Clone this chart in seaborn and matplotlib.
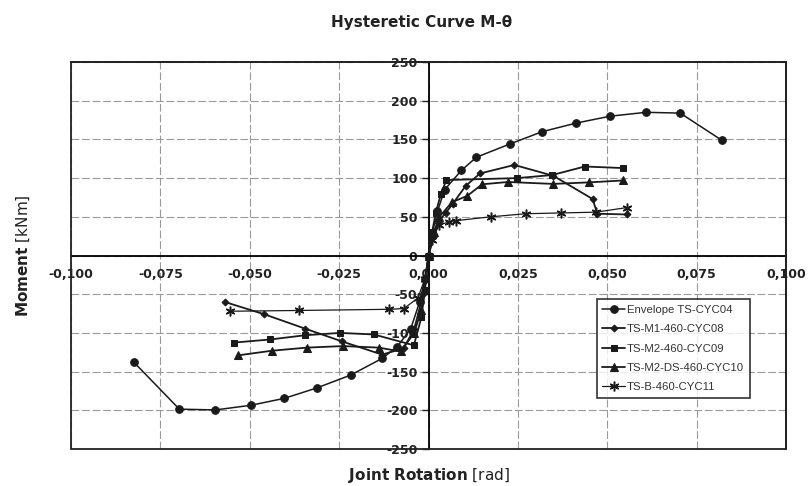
import matplotlib
matplotlib.use("Agg")
import matplotlib.pyplot as plt
from matplotlib.patches import Rectangle
import seaborn as sns
import pandas as pd

# Joint rotation [rad] and moment [kNm] for each test
env_rot = [-0.0825, -0.0697, -0.0596, -0.0497, -0.0403, -0.0312, -0.0218, -0.0130, -0.0088,
           -0.0050, -0.0025, -0.0010, 0.0, 0.0010, 0.0025, 0.0045, 0.0092, 0.0134, 0.0227,
           0.0318, 0.0412, 0.0508, 0.0608, 0.0704, 0.0820]
env_mom = [-137.5, -198.5, -199.5, -193.5, -184.5, -171.0, -154.5, -133.0, -118.0,
           -95.0, -60.0, -30.0, 0.0, 28.0, 57.0, 85.0, 110.0, 127.0, 144.0,
           160.0, 171.0, 180.0, 185.0, 184.0, 149.0]

m1_rot = [-0.0570, -0.0459, -0.0345, -0.0242, -0.0130, -0.0070, -0.0040, -0.0015, 0.0,
          0.0015, 0.0030, 0.0048, 0.0068, 0.0104, 0.0144, 0.0240, 0.0349, 0.0459, 0.0472, 0.0556]
m1_mom = [-60.0, -76.0, -94.5, -111.0, -128.0, -120.0, -95.0, -50.0, 0.0,
          25.0, 45.0, 55.0, 67.0, 90.0, 106.0, 117.0, 103.0, 73.0, 54.0, 53.0]

m2_rot = [-0.0545, -0.0443, -0.0345, -0.0248, -0.0153, -0.0041, -0.0020, -0.0010, 0.0,
          0.0010, 0.0020, 0.0035, 0.0050, 0.0248, 0.0346, 0.0437, 0.0543]
m2_mom = [-112.5, -108.5, -103.0, -100.0, -102.0, -116.0, -80.0, -45.0, 0.0,
          30.0, 55.0, 80.0, 97.5, 100.0, 104.0, 115.0, 113.0]

ds_rot = [-0.0533, -0.0438, -0.0340, -0.0239, -0.0139, -0.0078, -0.0040, -0.0020, 0.0,
          0.0015, 0.0030, 0.0066, 0.0108, 0.0150, 0.0222, 0.0349, 0.0449, 0.0545]
ds_mom = [-129.0, -123.0, -119.0, -117.0, -119.0, -124.0, -100.0, -70.0, 0.0,
          30.0, 50.0, 69.0, 77.0, 92.0, 95.0, 92.5, 94.5, 97.0]

b_rot = [-0.0555, -0.0363, -0.0111, -0.0069, -0.0030, -0.0010, 0.0,
         0.0010, 0.0030, 0.0057, 0.0076, 0.0174, 0.0272, 0.0370, 0.0468, 0.0556]
b_mom = [-72.0, -71.0, -69.5, -68.5, -55.0, -30.0, 0.0,
         20.0, 40.0, 43.0, 45.0, 50.0, 54.0, 55.0, 56.0, 62.0]

series_names = ["Envelope TS-CYC04", "TS-M1-460-CYC08", "TS-M2-460-CYC09",
                "TS-M2-DS-460-CYC10", "TS-B-460-CYC11"]

x_ticks = [-0.100, -0.075, -0.050, -0.025, 0.0, 0.025, 0.050, 0.075, 0.100]
x_ticklabels = ["-0,100", "-0,075", "-0,050", "-0,025", "0,000", "0,025", "0,050", "0,075", "0,100"]
y_ticks = [250, 200, 150, 100, 50, 0, -50, -100, -150, -200, -250]
y_ticklabels = ["250", "200", "150", "100", "50", "0", "-50", "-100", "-150", "-200", "-250"]

sns.set_style("white")
plt.rcParams["font.family"] = ["DejaVu Sans"]
plt.rcParams["mathtext.fontset"] = "dejavusans"

fig = plt.figure(figsize=(8.1, 4.86), dpi=100)
ax = fig.add_axes([0.0877, 0.0761, 0.8827, 0.7963])

data = [(env_rot, env_mom), (m1_rot, m1_mom), (m2_rot, m2_mom), (ds_rot, ds_mom), (b_rot, b_mom)]
styles = [
    dict(marker="o", markersize=5.5, linewidth=1.1),
    dict(marker="D", markersize=3.5, linewidth=1.3),
    dict(marker="s", markersize=4.5, linewidth=1.3),
    dict(marker="^", markersize=5.5, linewidth=1.3),
    dict(marker=(6, 2, 0), markersize=7, markeredgewidth=1.1, linewidth=0.9),
]

for (xs, ys), name, st in zip(data, series_names, styles):
    df = pd.DataFrame({"rot": xs, "mom": ys})
    sns.lineplot(data=df, x="rot", y="mom", sort=False, estimator=None, ax=ax,
                 color="#1a1a1a", markeredgecolor="#1a1a1a", markerfacecolor="#1a1a1a",
                 label=name, zorder=3, **st)

ax.set_xlim(-0.100, 0.100)
ax.set_ylim(-250, 250)

# Axes crossing at the origin, outer box drawn separately
ax.spines["left"].set_position(("data", 0.0))
ax.spines["bottom"].set_position(("data", 0.0))
for side in ["left", "bottom"]:
    ax.spines[side].set_linewidth(1.3)
    ax.spines[side].set_color("black")
    ax.spines[side].set_zorder(2.5)
for side in ["top", "right"]:
    ax.spines[side].set_linewidth(1.3)
    ax.spines[side].set_color("#222222")
ax.add_patch(Rectangle((0, 0), 1, 1, transform=ax.transAxes, fill=False,
                       edgecolor="#222222", linewidth=1.3, clip_on=False, zorder=4))

ax.set_xticks(x_ticks)
ax.set_xticklabels(x_ticklabels, fontsize=9, fontweight="bold", color="#222222")
ax.set_yticks(y_ticks)
ax.set_yticklabels(y_ticklabels, fontsize=9, fontweight="bold", color="#222222")
ax.tick_params(axis="y", direction="out", length=5, width=1, pad=3, left=True)
ax.tick_params(axis="x", direction="out", length=0, pad=9, bottom=True)

ax.grid(True, linestyle=(0, (7, 2.5)), color="#9a9a9a", linewidth=0.8)
ax.set_axisbelow(True)

ax.set_xlabel(r"$\mathbf{Joint\ Rotation}$ [rad]", fontsize=11, color="#222222", labelpad=0)
ax.set_ylabel(r"$\mathbf{Moment}$ [kNm]", fontsize=11, color="#222222")
ax.xaxis.set_label_coords(0.5, -0.045)
ax.yaxis.set_label_coords(-0.054, 0.5)

fig.text(0.52, 0.954, "Hysteretic Curve M-θ", ha="center", va="center",
         fontsize=11, fontweight="bold", color="#222222")

leg = ax.legend(loc="lower left", bbox_to_anchor=(0.735, 0.132),
                prop={"family": "Liberation Sans", "size": 8.2},
                frameon=True, fancybox=False, borderpad=0.5, labelspacing=0.82,
                handlelength=2.0, handletextpad=0.15, borderaxespad=0)
leg.get_frame().set_edgecolor("black")
leg.get_frame().set_linewidth(1.2)
for t in leg.get_texts():
    t.set_color("#333333")

fig.savefig("out.png", dpi=100)
